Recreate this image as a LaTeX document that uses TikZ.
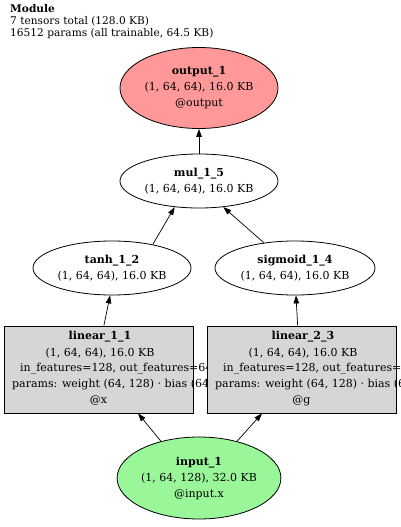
\documentclass[tikz,border=0pt]{standalone}
\usepackage{fontspec}
\setmainfont{DejaVu Serif}
\usepackage{xcolor}
\usetikzlibrary{arrows.meta,shapes.geometric}
\definecolor{outRed}{HTML}{FF9999}
\definecolor{inGreen}{HTML}{99F799}
\definecolor{opGray}{HTML}{D6D6D6}
\tikzset{
  tensor/.style={draw,ellipse,inner sep=0pt,align=center,line width=0.8pt,
    minimum width=158pt,minimum height=54pt,font=\fontsize{11}{16}\selectfont},
  opbox/.style={draw,rectangle,fill=opGray,line width=0.8pt,inner sep=0pt,
    minimum width=189pt,minimum height=87pt},
  boxtxt/.style={inner sep=0pt,font=\fontsize{11}{16}\selectfont},
  arr/.style={-{Triangle[length=8pt,width=5.5pt]},line width=0.7pt}
}
\begin{document}
\begin{tikzpicture}[x=1pt,y=-1pt]
\useasboundingbox (0,0) rectangle (400,527);
% header
\node[anchor=north west,align=left,inner sep=0pt,font=\fontsize{10.6}{12}\selectfont] (hdr) at (10,4)
  {\textbf{Module}\\7 tensors total (128.0 KB)\\16512 params (all trainable, 64.5 KB)};
% tensors
\node[tensor,fill=outRed,minimum height=81pt] (out1) at (199,88)
  {\textbf{output\_1}\\(1, 64, 64), 16.0 KB\\@output};
\node[tensor] (mul15) at (199,181) {\textbf{mul\_1\_5}\\(1, 64, 64), 16.0 KB};
\node[tensor] (tanh12) at (112,268) {\textbf{tanh\_1\_2}\\(1, 64, 64), 16.0 KB};
\node[tensor,minimum width=160pt] (sig14) at (295,268) {\textbf{sigmoid\_1\_4}\\(1, 64, 64), 16.0 KB};
\node[tensor,fill=inGreen,minimum height=82pt] (in1) at (199,478)
  {\textbf{input\_1}\\(1, 64, 128), 32.0 KB\\@input.x};
% linear_1_1 (its long lines run under the next box)
\node[opbox] (lin11) at (98.5,369.5) {};
\node[boxtxt] (lin11a) at (100,337) {\textbf{linear\_1\_1}};
\node[boxtxt] (lin11b) at (100,353) {(1, 64, 64), 16.0 KB};
\node[boxtxt,anchor=west] (lin11c) at (20,369) {in\_features=128, out\_features=64};
\node[boxtxt,anchor=west] (lin11d) at (12,385) {params: weight (64, 128) · bias (64,)};
\node[boxtxt] (lin11e) at (98.5,401) {@x};
% linear_2_3
\node[opbox] (lin23) at (301.5,369.5) {};
\node[boxtxt] (lin23a) at (303,337) {\textbf{linear\_2\_3}};
\node[boxtxt] (lin23b) at (303,353) {(1, 64, 64), 16.0 KB};
\node[boxtxt,anchor=west] (lin23c) at (223,369) {in\_features=128, out\_features=64};
\node[boxtxt,anchor=west] (lin23d) at (215,385) {params: weight (64, 128) · bias (64,)};
\node[boxtxt] (lin23e) at (301.5,401) {@g};
% edges
\draw[arr] (in1.136) -- (lin11.-48);
\draw[arr] (in1.44) -- (lin23.228);
\draw[arr] (lin11.83) -- (tanh12.266);
\draw[arr] (lin23.95) -- (sig14.272);
\draw[arr] (tanh12.30) -- (mul15.227);
\draw[arr] (sig14.141) -- (mul15.313);
\draw[arr] (mul15.north) -- (out1.south);
\end{tikzpicture}
\end{document}
